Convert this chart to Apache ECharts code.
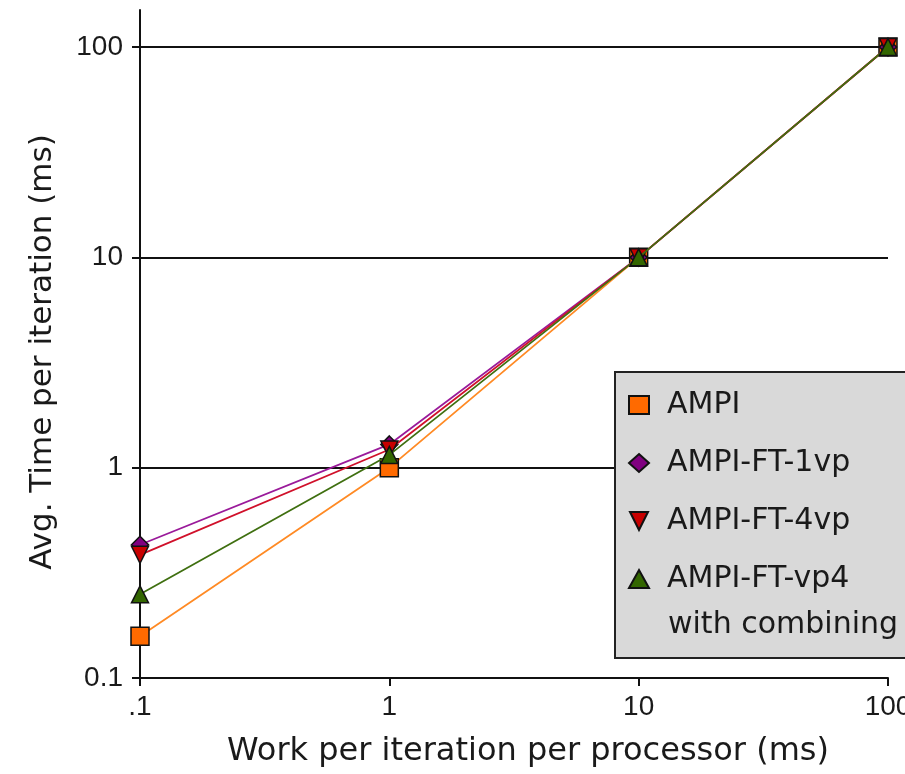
<!DOCTYPE html>
<html><head><meta charset="utf-8">
<script src="https://cdn.jsdelivr.net/npm/echarts@6/dist/echarts.min.js"></script>
<style>html,body{margin:0;padding:0;background:#fff}#c{width:905px;height:774px}</style>
</head><body><div id="c"></div>
<script>
const work = [0.1, 1, 10, 100];
const xTickLabels = ['.1', '1', '10', '100'];
const yTicks = [0.1, 1, 10, 100];
const yTickLabels = ['0.1', '1', '10', '100'];
const ampi = [0.158, 1.0, 10, 100];
const ft1vp = [0.43, 1.29, 10, 100];
const ft4vp = [0.385, 1.22, 10, 100];
const ftvp4 = [0.25, 1.15, 10, 100];
const seriesNames = ['AMPI', 'AMPI-FT-1vp', 'AMPI-FT-4vp', 'AMPI-FT-vp4'];
const extraLegendLine = 'with combining';

const tickFont = '"Liberation Sans", Arial, sans-serif';
const textFont = '"DejaVu Sans", sans-serif';
const chart = echarts.init(document.getElementById('c'), null, {renderer: 'canvas'});
const pairs = v => work.map((x, i) => [x, v[i]]);
const styles = [
  {line: '#ff8a24', fill: '#ff6a00', symbol: 'rect', size: 18},
  {line: '#9a1a9a', fill: '#800080', symbol: 'diamond', size: 17},
  {line: '#d0102a', fill: '#c80000', symbol: 'path://M0,0 L10,0 L5,10 Z', size: 17},
  {line: '#3f6f10', fill: '#336600', symbol: 'triangle', size: 17}
];
const values = [ampi, ft1vp, ft4vp, ftvp4];
const xLab = {}; work.forEach((w, i) => xLab[w] = xTickLabels[i]);
const yLab = {}; yTicks.forEach((w, i) => yLab[w] = yTickLabels[i]);

chart.setOption({
  animation: false,
  backgroundColor: '#fff',
  grid: {left: 140, right: 17, top: 10, bottom: 96, containLabel: false, outerBoundsMode: 'none'},
  xAxis: {
    type: 'log', min: 0.1, max: 100, logBase: 10,
    name: 'Work per iteration per processor (ms)',
    nameLocation: 'middle', nameGap: 58,
    nameTextStyle: {fontFamily: textFont, fontSize: 32, color: '#1a1a1a', padding: [0, 0, 0, 28]},
    axisLine: {show: true, lineStyle: {color: '#111', width: 2}},
    axisTick: {show: true, length: 8, lineStyle: {color: '#111', width: 2}},
    axisLabel: {fontFamily: tickFont, fontSize: 28, color: '#1a1a1a', margin: 15,
      formatter: v => xLab[v] !== undefined ? xLab[v] : ''},
    splitLine: {show: false}
  },
  yAxis: {
    type: 'log', min: 0.1, max: 150, logBase: 10,
    name: 'Avg. Time per iteration (ms)',
    nameLocation: 'middle', nameGap: 82,
    nameTextStyle: {fontFamily: textFont, fontSize: 31, color: '#1a1a1a', padding: [0, 16, 0, 0]},
    axisLine: {show: true, lineStyle: {color: '#111', width: 2}},
    axisTick: {show: true, length: 8, customValues: yTicks, lineStyle: {color: '#111', width: 2}},
    axisLabel: {fontFamily: tickFont, fontSize: 28, color: '#1a1a1a', margin: 17, customValues: yTicks,
      formatter: v => yLab[v] !== undefined ? yLab[v] : ''},
    splitLine: {show: true, showMinLine: false, showMaxLine: true, lineStyle: {color: '#111', width: 2}}
  },
  legend: {
    orient: 'vertical', left: 615, top: 372,
    padding: [18, 90, 64, 13],
    backgroundColor: '#d9d9d9', borderColor: '#222', borderWidth: 2, borderRadius: 0,
    itemWidth: 20, itemHeight: 18, itemGap: 28,
    textStyle: {fontFamily: textFont, fontSize: 30, color: '#1a1a1a', lineHeight: 30, padding: [0, 0, 0, 13]},
    data: seriesNames.map((n, i) => ({name: n, icon: styles[i].symbol}))
  },
  graphic: [{
    type: 'text', x: 668, y: 625, z: 100, zlevel: 1,
    style: {text: extraLegendLine, fontFamily: textFont, fontSize: 30, fill: '#1a1a1a', verticalAlign: 'middle', align: 'left'}
  }],
  series: seriesNames.map((n, i) => ({
    name: n, type: 'line', data: pairs(values[i]),
    symbol: styles[i].symbol, symbolSize: styles[i].size,
    lineStyle: {color: styles[i].line, width: 1.8},
    itemStyle: {color: styles[i].fill, borderColor: '#111', borderWidth: 1.5},
    z: 3 + i
  }))
});
</script></body></html>
